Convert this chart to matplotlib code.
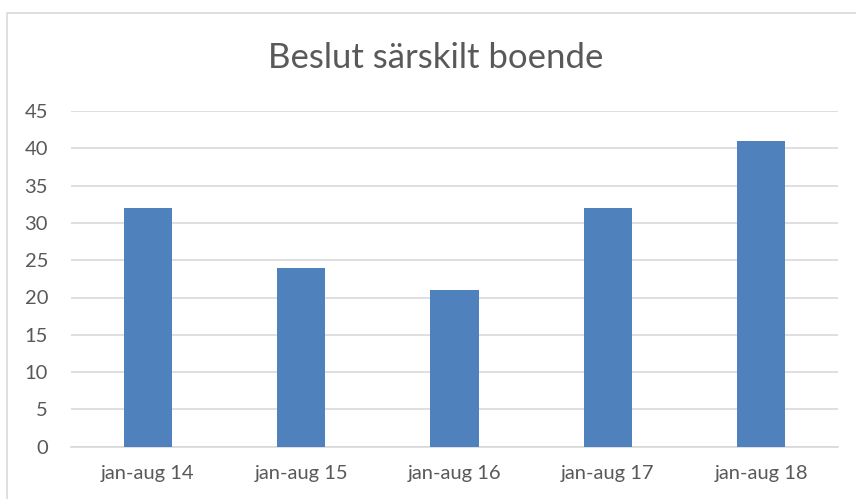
import matplotlib.pyplot as plt
from matplotlib.lines import Line2D

periods = ['jan-aug 14', 'jan-aug 15', 'jan-aug 16', 'jan-aug 17', 'jan-aug 18']
beslut = [32, 24, 21, 32, 41]

plt.rcParams['font.family'] = ['Lato', 'DejaVu Sans']

fig = plt.figure(figsize=(8.56, 4.99), dpi=100)
ax = fig.add_axes([71 / 856, 1 - 446.7 / 499, 767 / 856, 335.7 / 499])

ax.bar(range(len(periods)), beslut, width=0.313, color='#4F81BD', zorder=3)

ax.set_xlim(-0.5, len(periods) - 0.5)
ax.set_ylim(0, 45)
ax.set_yticks(range(0, 46, 5))
ax.set_xticks(range(len(periods)))
ax.set_xticklabels(periods)
ax.grid(axis='y', color='#D9D9D9', linewidth=1.2, zorder=0)
ax.tick_params(axis='both', length=0, labelsize=14.5, colors='#595959')
ax.tick_params(axis='x', pad=13)
ax.tick_params(axis='y', pad=16.5)

for s in ['top', 'right', 'left']:
    ax.spines[s].set_visible(False)
ax.spines['bottom'].set_color('#D9D9D9')
ax.spines['bottom'].set_linewidth(1.2)

fig.text(436 / 856, 1 - 68 / 499, 'Beslut särskilt boende', ha='center', va='baseline',
         fontsize=25, color='#595959')

# ram runt diagrammet (bara vänster- och överkant syns)
x0, y0 = 6.5 / 856, 1 - 12.5 / 499
fig.lines.append(Line2D([x0, x0, 1.0], [0.0, y0, y0], transform=fig.transFigure,
                        color='#D9D9D9', linewidth=1.2))

fig.savefig('out.png', dpi=100)
